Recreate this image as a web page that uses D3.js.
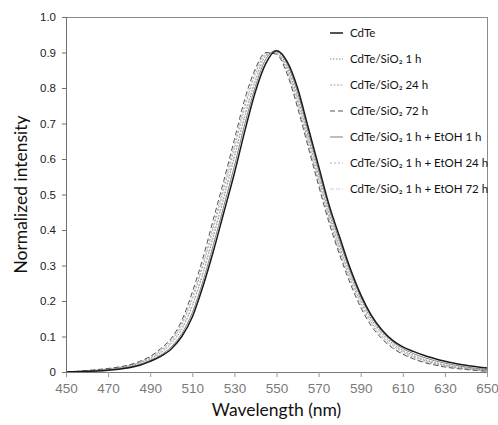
<!DOCTYPE html>
<html>
<head>
<meta charset="utf-8">
<script src="https://cdn.jsdelivr.net/npm/d3@7"></script>
<style>
  body { margin: 0; background: #fff; }
  svg { font-family: Lato, "Open Sans", sans-serif; }
</style>
</head>
<body>
<div id="chart"></div>
<script>
// wavelength grid (nm)
var wavelengths = [450, 455, 460, 465, 470, 475, 480, 485, 490, 495, 500, 505, 510, 515, 520, 525, 530, 535, 540, 545,
    550, 555, 560, 565, 570, 575, 580, 585, 590, 595, 600, 605, 610, 615, 620, 625, 630, 635, 640, 645, 650];

// normalized intensities
var cdte = [0.000, 0.001, 0.002, 0.003, 0.005, 0.008, 0.012, 0.019, 0.030, 0.044, 0.065, 0.100, 0.155, 0.240, 0.340, 0.450, 0.560, 0.680, 0.790, 0.870,
    0.905, 0.875, 0.800, 0.690, 0.580, 0.470, 0.380, 0.292, 0.218, 0.160, 0.119, 0.090, 0.071, 0.058, 0.047, 0.038, 0.030, 0.024, 0.019, 0.015, 0.011];
var sio2_1h = [0.000, 0.001, 0.003, 0.005, 0.007, 0.011, 0.016, 0.024, 0.037, 0.054, 0.080, 0.120, 0.185, 0.275, 0.380, 0.490, 0.605, 0.720, 0.820, 0.890,
    0.902, 0.860, 0.775, 0.665, 0.555, 0.448, 0.355, 0.275, 0.205, 0.150, 0.110, 0.081, 0.061, 0.047, 0.036, 0.027, 0.020, 0.015, 0.011, 0.008, 0.005];
var sio2_24h = [0.000, 0.002, 0.003, 0.006, 0.009, 0.013, 0.018, 0.027, 0.041, 0.060, 0.088, 0.133, 0.205, 0.298, 0.405, 0.515, 0.630, 0.745, 0.840, 0.895,
    0.898, 0.850, 0.760, 0.650, 0.540, 0.435, 0.342, 0.263, 0.195, 0.141, 0.102, 0.075, 0.056, 0.042, 0.032, 0.024, 0.018, 0.013, 0.009, 0.006, 0.004];
var sio2_72h = [0.000, 0.002, 0.004, 0.007, 0.010, 0.014, 0.020, 0.030, 0.044, 0.066, 0.095, 0.145, 0.225, 0.320, 0.430, 0.540, 0.655, 0.770, 0.855, 0.900,
    0.895, 0.840, 0.745, 0.635, 0.525, 0.420, 0.330, 0.250, 0.182, 0.130, 0.094, 0.068, 0.050, 0.037, 0.027, 0.020, 0.014, 0.010, 0.007, 0.004, 0.002];
var etoh_1h = [0.000, 0.001, 0.002, 0.004, 0.006, 0.009, 0.014, 0.021, 0.033, 0.048, 0.071, 0.108, 0.167, 0.255, 0.358, 0.468, 0.580, 0.700, 0.805, 0.882,
    0.906, 0.868, 0.788, 0.678, 0.568, 0.460, 0.368, 0.284, 0.212, 0.156, 0.115, 0.086, 0.066, 0.052, 0.041, 0.032, 0.025, 0.019, 0.014, 0.010, 0.007];
var etoh_24h = [0.000, 0.002, 0.004, 0.006, 0.009, 0.013, 0.019, 0.028, 0.042, 0.062, 0.091, 0.138, 0.212, 0.306, 0.415, 0.525, 0.640, 0.755, 0.848, 0.898,
    0.896, 0.845, 0.753, 0.643, 0.533, 0.428, 0.336, 0.257, 0.189, 0.136, 0.098, 0.071, 0.052, 0.039, 0.029, 0.021, 0.015, 0.011, 0.008, 0.005, 0.003];
var etoh_72h = [0.000, 0.001, 0.003, 0.005, 0.008, 0.012, 0.017, 0.025, 0.038, 0.056, 0.083, 0.124, 0.190, 0.282, 0.388, 0.498, 0.612, 0.728, 0.826, 0.892,
    0.900, 0.856, 0.770, 0.660, 0.550, 0.443, 0.350, 0.270, 0.201, 0.147, 0.107, 0.079, 0.059, 0.045, 0.034, 0.026, 0.019, 0.014, 0.010, 0.007, 0.004];

var seriesNames = ["CdTe", "CdTe/SiO\u2082 1 h", "CdTe/SiO\u2082 24 h", "CdTe/SiO\u2082 72 h",
    "CdTe/SiO\u2082 1 h + EtOH 1 h", "CdTe/SiO\u2082 1 h + EtOH 24 h", "CdTe/SiO\u2082 1 h + EtOH 72 h"];
var seriesValues = [cdte, sio2_1h, sio2_24h, sio2_72h, etoh_1h, etoh_24h, etoh_72h];

var xTicks = [450, 470, 490, 510, 530, 550, 570, 590, 610, 630, 650];
var yTicks = [0, 0.1, 0.2, 0.3, 0.4, 0.5, 0.6, 0.7, 0.8, 0.9, 1.0];

// line styles per series
var styles = [
    { color: "#1a1a1a", width: 1.5, dash: null },
    { color: "#8c8c8c", width: 1, dash: "1.5,1.5" },
    { color: "#a6a6a6", width: 1, dash: "2,1.5" },
    { color: "#555555", width: 1, dash: "5,3" },
    { color: "#7f7f7f", width: 1, dash: null },
    { color: "#b0b0b0", width: 1, dash: "2,2" },
    { color: "#cfcfcf", width: 1, dash: "4,2" }
];

var W = 498, H = 425;
var margin = { top: 17, right: 11, bottom: 53, left: 66 },
    width = W - margin.left - margin.right,
    height = H - margin.top - margin.bottom;

var svg = d3.select("#chart").append("svg")
    .attr("width", W)
    .attr("height", H);

var g = svg.append("g")
    .attr("transform", "translate(" + margin.left + "," + margin.top + ")");

var x = d3.scaleLinear().domain([450, 650]).range([0, width]);
var y = d3.scaleLinear().domain([0, 1]).range([height, 0]);

// plot frame (top and right)
g.append("line").attr("x1", 0).attr("x2", width).attr("y1", 0.5).attr("y2", 0.5)
    .attr("stroke", "#8c8c8c").attr("stroke-width", 1);
g.append("line").attr("x1", width + 0.5).attr("x2", width + 0.5).attr("y1", 0).attr("y2", height)
    .attr("stroke", "#8c8c8c").attr("stroke-width", 1);

// curves
var line = d3.line()
    .x(function(d) { return x(d[0]); })
    .y(function(d) { return y(d[1]); })
    .curve(d3.curveMonotoneX);

// draw lighter ones first, black CdTe on top
var order = [6, 5, 2, 1, 3, 4, 0];
order.forEach(function(i) {
    var pts = wavelengths.map(function(w, k) { return [w, seriesValues[i][k]]; });
    g.append("path")
        .datum(pts)
        .attr("fill", "none")
        .attr("stroke", styles[i].color)
        .attr("stroke-width", styles[i].width)
        .attr("stroke-dasharray", styles[i].dash)
        .attr("d", line);
});

// x axis
var xAxis = g.append("g")
    .attr("transform", "translate(0," + height + ")")
    .call(d3.axisBottom(x).tickValues(xTicks).tickSize(5).tickPadding(6).tickFormat(d3.format("d")));
xAxis.select(".domain").attr("stroke", "#7a7a7a");
xAxis.selectAll(".tick line").attr("stroke", "#9a9a9a");
xAxis.selectAll("text").attr("fill", "#7a7a7a").style("font-size", "13.5px");

// y axis
var yAxis = g.append("g")
    .call(d3.axisLeft(y).tickValues(yTicks).tickSize(4).tickPadding(6)
        .tickFormat(function(d) { return d === 0 ? "0" : d3.format(".1f")(d); }));
yAxis.select(".domain").attr("stroke", "#6e6e6e");
yAxis.selectAll(".tick line").attr("stroke", "#6e6e6e");
yAxis.selectAll("text").attr("fill", "#222").style("font-size", "11.5px");

// axis titles
svg.append("text")
    .attr("x", margin.left + width / 2)
    .attr("y", 416)
    .attr("text-anchor", "middle")
    .attr("fill", "#111")
    .style("font-size", "17.5px")
    .text("Wavelength (nm)");

svg.append("text")
    .attr("transform", "translate(27," + (margin.top + height / 2) + ") rotate(-90)")
    .attr("text-anchor", "middle")
    .attr("fill", "#111")
    .style("font-size", "17.5px")
    .text("Normalized intensity");

// legend
var legend = svg.append("g").attr("transform", "translate(330,33)");
seriesNames.forEach(function(name, i) {
    var row = legend.append("g").attr("transform", "translate(0," + (i * 26) + ")");
    row.append("line")
        .attr("x1", 0).attr("x2", 13).attr("y1", 0).attr("y2", 0)
        .attr("stroke", styles[i].color)
        .attr("stroke-width", styles[i].width)
        .attr("stroke-dasharray", styles[i].dash);
    row.append("text")
        .attr("x", 20)
        .attr("y", 4)
        .attr("fill", "#111")
        .style("font-size", "11.5px")
        .text(name);
});
</script>
</body>
</html>
